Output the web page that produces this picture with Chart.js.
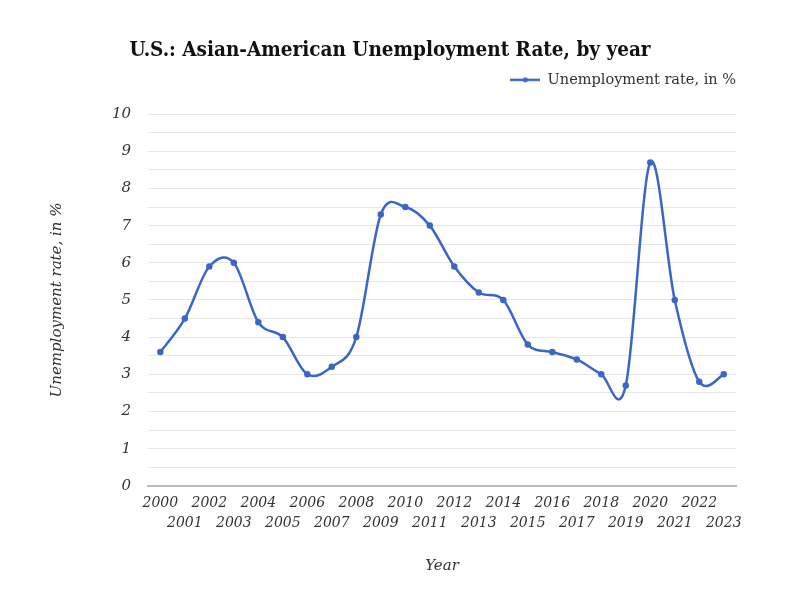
<!DOCTYPE html>
<html>
<head>
<meta charset="utf-8">
<script src="https://cdn.jsdelivr.net/npm/chart.js@4"></script>
<style>
  html, body { margin: 0; padding: 0; background: #fff; }
  #wrap { width: 800px; height: 600px; }
</style>
</head>
<body>
<div id="wrap"><canvas id="chart"></canvas></div>
<script>
const years = ["2000","2001","2002","2003","2004","2005","2006","2007","2008","2009","2010","2011",
  "2012","2013","2014","2015","2016","2017","2018","2019","2020","2021","2022","2023"];
const unemploymentRate = [3.6, 4.5, 5.9, 6.0, 4.4, 4.0, 3.0, 3.2, 4.0, 7.3, 7.5, 7.0,
  5.9, 5.2, 5.0, 3.8, 3.6, 3.4, 3.0, 2.7, 8.7, 5.0, 2.8, 3.0];
const seriesLabel = "Unemployment rate, in %";

const blue = "#3b66c4";
const serif = "'DejaVu Serif Condensed', 'DejaVu Serif', serif";
const serifText = "'DejaVu Serif', serif";

// legend marker: line with a dot in the middle
const marker = document.createElement("canvas");
marker.width = 30; marker.height = 8;
const mctx = marker.getContext("2d");
mctx.strokeStyle = blue; mctx.lineWidth = 2.5;
mctx.beginPath(); mctx.moveTo(0, 4); mctx.lineTo(30, 4); mctx.stroke();
mctx.fillStyle = blue;
mctx.beginPath(); mctx.arc(15, 4, 2.5, 0, Math.PI * 2); mctx.fill();

// uniform Catmull-Rom smoothing (the reference overshoots between points)
const catmullRom = {
  id: "catmullRom",
  beforeDatasetsDraw(chart) {
    chart.getSortedVisibleDatasetMetas().forEach((meta) => {
      const pts = meta.data;
      const n = pts.length;
      for (let i = 0; i < n; i++) {
        const p0 = pts[Math.max(i - 1, 0)];
        const p2 = pts[Math.min(i + 1, n - 1)];
        const dx = (p2.x - p0.x) / 6;
        const dy = (p2.y - p0.y) / 6;
        pts[i].cp1x = pts[i].x - dx;
        pts[i].cp1y = pts[i].y - dy;
        pts[i].cp2x = pts[i].x + dx;
        pts[i].cp2y = pts[i].y + dy;
      }
      if (meta.dataset) meta.dataset._pointsUpdated = true;
    });
  },
};

// extra room between legend and plot area
const legendGap = {
  id: "legendGap",
  beforeInit(chart) {
    const fit = chart.legend.fit;
    chart.legend.fit = function () {
      fit.bind(chart.legend)();
      this.height += 17;
    };
  },
};

const ctx = document.getElementById("chart").getContext("2d");
new Chart(ctx, {
  type: "line",
  data: {
    labels: years,
    datasets: [{
      label: seriesLabel,
      data: unemploymentRate,
      borderColor: blue,
      backgroundColor: blue,
      borderWidth: 2.5,
      pointRadius: 2,
      pointHoverRadius: 3,
      tension: 0.4,
    }],
  },
  plugins: [catmullRom, legendGap],
  options: {
    responsive: true,
    maintainAspectRatio: false,
    animation: false,
    layout: { padding: { left: 44, right: 64, top: 30, bottom: 21 } },
    plugins: {
      title: {
        display: true,
        text: "U.S.: Asian-American Unemployment Rate, by year",
        color: "#111",
        font: { family: serif, size: 20.5, weight: "bold" },
        padding: { top: 8, bottom: 10 },
      },
      legend: {
        position: "top",
        align: "end",
        labels: {
          usePointStyle: true,
          pointStyle: marker,
          pointStyleWidth: 30,
          color: "#333",
          font: { family: serifText, size: 14.5 },
          padding: 0,
        },
      },
      tooltip: { enabled: false },
    },
    scales: {
      x: {
        offset: true,
        grid: { display: false, drawTicks: false },
        border: { color: "#bbb", width: 2 },
        ticks: {
          autoSkip: false,
          maxRotation: 0,
          color: "#333",
          padding: 8,
          font: { family: serifText, size: 14, style: "italic", lineHeight: 1.4 },
          callback: function (value, index) {
            const lbl = this.getLabelForValue(value);
            return index % 2 === 0 ? [lbl, ""] : ["", lbl];
          },
        },
        title: {
          display: true,
          text: "Year",
          color: "#333",
          font: { family: serifText, size: 15, style: "italic" },
          padding: { top: 16 },
        },
      },
      y: {
        min: 0,
        max: 10,
        grid: { color: "#e6e6e6", drawTicks: false },
        border: { display: false },
        ticks: {
          stepSize: 0.5,
          autoSkip: false,
          color: "#333",
          padding: 17,
          font: { family: serifText, size: 15, style: "italic" },
          callback: (v) => (Number.isInteger(v) ? v : ""),
        },
        title: {
          display: true,
          text: seriesLabel,
          color: "#333",
          font: { family: serifText, size: 15, style: "italic" },
          padding: { bottom: 29 },
        },
      },
    },
  },
});
</script>
</body>
</html>
